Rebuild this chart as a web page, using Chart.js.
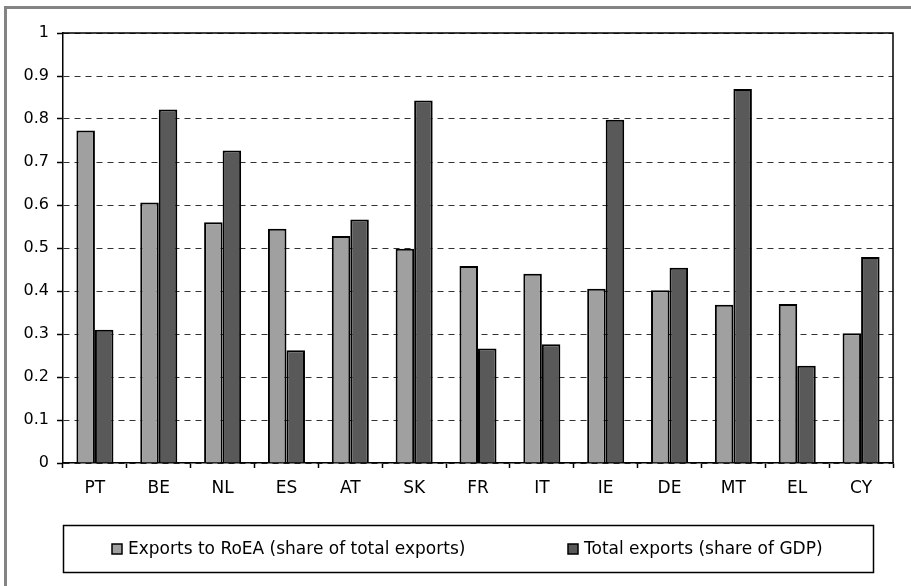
<!DOCTYPE html>
<html>
<head>
<meta charset="utf-8">
<script src="https://cdn.jsdelivr.net/npm/chart.js@4/dist/chart.umd.min.js"></script>
<style>
  body { margin: 0; background: #fff; }
  canvas { display: block; }
</style>
</head>
<body>
<canvas id="exportsChart" width="911" height="586"></canvas>
<script>
// Chart data
const countries = ['PT', 'BE', 'NL', 'ES', 'AT', 'SK', 'FR', 'IT', 'IE', 'DE', 'MT', 'EL', 'CY'];
const exportsRoEA = [0.773, 0.606, 0.560, 0.545, 0.528, 0.498, 0.458, 0.440, 0.405, 0.402, 0.368, 0.370, 0.302];
const exportsGDP = [0.310, 0.822, 0.727, 0.262, 0.566, 0.843, 0.266, 0.276, 0.798, 0.454, 0.870, 0.226, 0.479];
const yTickLabels = ['0', '0.1', '0.2', '0.3', '0.4', '0.5', '0.6', '0.7', '0.8', '0.9', '1'];
const seriesNames = ['Exports to RoEA (share of total exports)', 'Total exports (share of GDP)'];

const FONT = '"DejaVu Sans", "Liberation Sans", sans-serif';

// Grey frame, plot border and the boxed legend
const decorations = {
  id: 'decorations',
  beforeDraw(chart) {
    const ctx = chart.ctx;
    ctx.save();
    ctx.fillStyle = '#fff';
    ctx.fillRect(0, 0, chart.width, chart.height);
    ctx.fillStyle = '#848484';
    ctx.fillRect(4, 6, chart.width - 4, 3);
    ctx.fillRect(4, 6, 3, chart.height - 6);
    ctx.restore();
  },
  afterDraw(chart) {
    const ctx = chart.ctx;
    const a = chart.chartArea;
    ctx.save();
    ctx.strokeStyle = '#000';
    ctx.lineWidth = 1.5;
    ctx.beginPath();
    ctx.moveTo(a.left, a.top);
    ctx.lineTo(a.right, a.top);
    ctx.lineTo(a.right, a.bottom);
    ctx.stroke();

    // legend box
    ctx.strokeRect(63.5, 525.5, 810, 47);
    const itemX = [112, 568];
    ctx.font = '17px ' + FONT;
    ctx.textBaseline = 'middle';
    chart.data.datasets.forEach((ds, i) => {
      ctx.fillStyle = ds.backgroundColor;
      ctx.fillRect(itemX[i], 544, 10, 10);
      ctx.lineWidth = 1.5;
      ctx.strokeRect(itemX[i], 544, 10, 10);
      ctx.fillStyle = '#000';
      ctx.fillText(ds.label, itemX[i] + 16, 549.5);
    });
    ctx.restore();
  }
};

new Chart(document.getElementById('exportsChart'), {
  type: 'bar',
  data: {
    labels: countries,
    datasets: [
      {
        label: seriesNames[0],
        data: exportsRoEA,
        backgroundColor: '#a0a0a0',
        borderColor: '#000',
        borderWidth: 2,
        categoryPercentage: 0.58,
        barPercentage: 1
      },
      {
        label: seriesNames[1],
        data: exportsGDP,
        backgroundColor: '#595959',
        borderColor: '#000',
        borderWidth: 2,
        categoryPercentage: 0.58,
        barPercentage: 1
      }
    ]
  },
  options: {
    responsive: false,
    animation: false,
    layout: { padding: { top: 33, right: 18, bottom: 0, left: 0 } },
    plugins: {
      legend: { display: false },
      tooltip: { enabled: false }
    },
    scales: {
      x: {
        afterFit: s => { s.height = 123; },
        grid: {
          offset: true,
          drawOnChartArea: false,
          tickLength: 5,
          tickColor: '#000',
          tickWidth: 1.5
        },
        border: { color: '#000', width: 1.5 },
        ticks: {
          color: '#000',
          font: { family: FONT, size: 17 },
          padding: 10,
          maxRotation: 0
        }
      },
      y: {
        min: 0,
        max: 1,
        afterFit: s => { s.width = 63; },
        grid: {
          color: '#333',
          lineWidth: 1,
          tickLength: 6,
          tickColor: '#000',
          tickWidth: 1.5,
          tickBorderDash: [50, 0]
        },
        border: { color: '#000', width: 1.5, dash: [6, 5] },
        ticks: {
          stepSize: 0.1,
          color: '#000',
          font: { family: FONT, size: 16 },
          padding: 8,
          callback: (v, i) => yTickLabels[i]
        }
      }
    }
  },
  plugins: [decorations]
});
</script>
</body>
</html>
